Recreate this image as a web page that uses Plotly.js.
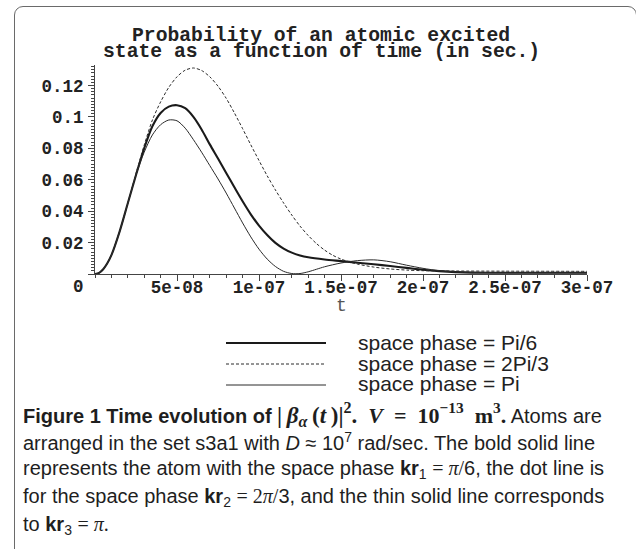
<!DOCTYPE html>
<html><head><meta charset="utf-8">
<script src="https://cdn.plot.ly/plotly-3.0.1.min.js"></script>
<style>
html,body{margin:0;padding:0;background:#fff;}
#wrap{position:relative;width:636px;height:549px;overflow:hidden;}
#frame{position:absolute;left:14px;top:6px;width:623px;height:600px;border:1.5px solid #6a6a6a;border-radius:9px;pointer-events:none;box-sizing:border-box;}
</style></head><body>
<div id="wrap"><div id="chart" style="width:636px;height:549px"></div><div id="frame"></div></div>
<script>
// time (s)
var tPi6 = [0,0.25e-8,0.5e-8,0.75e-8,1e-8,1.5e-8,2e-8,2.5e-8,3e-8,3.5e-8,4e-8,4.5e-8,5e-8,5.5e-8,6e-8,6.5e-8,7e-8,7.5e-8,8e-8,8.5e-8,9e-8,9.5e-8,10e-8,10.5e-8,11e-8,11.5e-8,12e-8,12.5e-8,13e-8,14e-8,15e-8,16e-8,17e-8,18e-8,19e-8,20e-8,21e-8,22e-8,23e-8,25e-8,27e-8,30e-8];
var pPi6 = [0,0.0007,0.003,0.0068,0.012,0.027,0.045,0.063,0.080,0.094,0.1025,0.1065,0.1074,0.1055,0.1,0.092,0.0825,0.0735,0.0643,0.0552,0.0463,0.038,0.0308,0.0248,0.0198,0.0162,0.0136,0.0118,0.0106,0.0092,0.0082,0.0072,0.0062,0.0051,0.0039,0.0027,0.0018,0.0012,0.0009,0.0008,0.0008,0.0008];

var t2Pi3 = [0,0.25e-8,0.5e-8,0.75e-8,1e-8,1.5e-8,2e-8,2.5e-8,3e-8,3.5e-8,4e-8,4.5e-8,5e-8,5.5e-8,6e-8,6.5e-8,7e-8,7.5e-8,8e-8,8.5e-8,9e-8,9.5e-8,10e-8,10.5e-8,11e-8,11.5e-8,12e-8,12.5e-8,13e-8,13.5e-8,14e-8,14.5e-8,15e-8,15.5e-8,16e-8,17e-8,18e-8,19e-8,20e-8,22e-8,25e-8,30e-8];
var p2Pi3 = [0,0.0007,0.003,0.0068,0.012,0.027,0.045,0.064,0.082,0.098,0.1095,0.1188,0.1255,0.1297,0.1311,0.1295,0.1255,0.1195,0.1118,0.1025,0.0925,0.0822,0.0722,0.0625,0.0535,0.0452,0.0375,0.0305,0.0245,0.0194,0.0152,0.0119,0.0095,0.0077,0.0063,0.0044,0.0032,0.0025,0.0021,0.0019,0.0018,0.0017];

var tPi = [0,0.25e-8,0.5e-8,0.75e-8,1e-8,1.5e-8,2e-8,2.5e-8,3e-8,3.5e-8,4e-8,4.5e-8,5e-8,5.5e-8,6e-8,6.5e-8,7e-8,7.5e-8,8e-8,8.5e-8,9e-8,9.5e-8,10e-8,10.5e-8,11e-8,11.5e-8,12e-8,12.5e-8,13e-8,13.5e-8,14e-8,15e-8,16e-8,17e-8,18e-8,19e-8,20e-8,21e-8,22e-8,23e-8,25e-8,27e-8,30e-8];
var pPi = [0,0.0007,0.003,0.0068,0.012,0.027,0.045,0.063,0.0775,0.0885,0.0950,0.0980,0.0975,0.0928,0.0855,0.0775,0.069,0.0605,0.0515,0.042,0.0325,0.0236,0.0158,0.0095,0.0048,0.0017,0.0003,0.0003,0.0014,0.003,0.0046,0.007,0.0085,0.009,0.0078,0.0056,0.0036,0.0021,0.0013,0.001,0.0008,0.0008,0.0008];

var seriesNames = ['space phase = Pi/6','space phase = 2Pi/3','space phase = Pi'];
var xTickVals = [5e-8,1e-7,1.5e-7,2e-7,2.5e-7,3e-7];
var xTickText = ['5e-08','1e-07','1.5e-07','2e-07','2.5e-07','3e-07'];
var yTickVals = [0,0.02,0.04,0.06,0.08,0.1,0.12];
var yTickText = ['','0.02','0.04','0.06','0.08','0.1','0.12'];
var titleLines = ['Probability of an atomic excited','state as a function of time (in sec.)'];
var xAxisTitle = 't';

var lineStyles = [
  {color:'#1a1a1a', width:2.1, dash:'solid'},
  {color:'#2a2a2a', width:1, dash:'3px,2px'},
  {color:'#2a2a2a', width:1, dash:'solid'}
];
var xs = [tPi6, t2Pi3, tPi], ys = [pPi6, p2Pi3, pPi];
var traces = xs.map(function(x,i){
  return {type:'scatter', mode:'lines', x:x, y:ys[i], name:seriesNames[i],
    line:{color:lineStyles[i].color, width:lineStyles[i].width, dash:lineStyles[i].dash, shape:'spline', smoothing:0.8},
    hoverinfo:'skip'};
});

var mono = 'Liberation Mono, Courier New, monospace';
var cap = "'Liberation Sans Narrow', 'Liberation Sans', Arial, sans-serif";

// pixel helpers for the layout (plot area 95..587 x 65..274)
function px(x){return (x-95)/492;}
function py(y){return (274-y)/209;}

var ann = [];
ann.push({xref:'paper',yref:'paper',x:px(321),y:py(35.5),xanchor:'center',yanchor:'middle',showarrow:false,
  text:titleLines[0],font:{family:mono,size:19.7,color:'#222',weight:'bold'}});
ann.push({xref:'paper',yref:'paper',x:px(321),y:py(52),xanchor:'center',yanchor:'middle',showarrow:false,
  text:titleLines[1],font:{family:mono,size:19.7,color:'#222',weight:'bold'}});
ann.push({xref:'paper',yref:'paper',x:0,y:0,xanchor:'right',yanchor:'top',xshift:-9,yshift:-1,showarrow:false,
  text:'0',font:{family:mono,size:17.5,color:'#222',weight:'bold'}});
// x-axis title
ann.push({xref:'paper',yref:'paper',x:0.5,y:py(306),xanchor:'center',yanchor:'middle',showarrow:false,
  text:xAxisTitle,font:{family:mono,size:18,color:'#555'}});
var legRows = [342,363,384];
var shapes = [];
for (var i=0;i<3;i++){
  shapes.push({type:'line',xref:'paper',yref:'paper',x0:px(226),x1:px(326),y0:py(legRows[i]+1),y1:py(legRows[i]+1),
    line:{color:lineStyles[i].color,width:lineStyles[i].width,dash:lineStyles[i].dash}});
  ann.push({xref:'paper',yref:'paper',x:px(356),y:py(legRows[i]),xanchor:'left',yanchor:'middle',showarrow:false,
    text:seriesNames[i],font:{family:'Liberation Sans, Arial, sans-serif',size:21,color:'#222'}});
}
var S = "<span style=\"font-family:Liberation Serif\">";
var capLines = [
  "<b>Figure 1 Time evolution of </b><span style=\"font-family:Liberation Serif;font-size:23px\"><b>|\u2009<i>β</i><sub><i>α</i></sub>\u2009(<i>t</i>\u2009)|<sup>2</sup>.</b></span><span style=\"font-family:Liberation Serif;font-size:22px\"><b>\u2002<i>V</i>\u2002=\u200210<sup>−13</sup>\u2002m<sup>3</sup>.</b></span> Atoms are",
  "arranged in the set s3a1 with <i>D</i> ≈ 10<sup>7</sup> rad/sec. The bold solid line",
  "represents the atom with the space phase <b>kr</b><sub>1</sub> "+S+"= <i>π</i>/</span>6, the dot line is",
  "for the space phase <b>kr</b><sub>2</sub> "+S+"= 2<i>π</i>/</span>3, and the thin solid line corresponds",
  "to <b>kr</b><sub>3</sub> "+S+"= <i>π</i>.</span>"
];
var capRows = [414,441,469,497,525];
for (var j=0;j<capLines.length;j++){
  ann.push({xref:'paper',yref:'paper',x:px(21),y:py(capRows[j]),xanchor:'left',yanchor:'middle',showarrow:false,align:'left',
    text:capLines[j],font:{family:cap,size:20,color:'#1e1e1e'}});
}

var axisCol = '#444';
var layout = {
  width:636,height:549,
  margin:{l:95,r:49,t:65,b:275,pad:0},
  paper_bgcolor:'#fff',plot_bgcolor:'#fff',
  showlegend:false,
  xaxis:{range:[0,3e-7],tickmode:'array',tickvals:xTickVals,ticktext:xTickText,
    ticks:'outside',ticklen:6,tickwidth:1,tickcolor:axisCol,ticklabelstandoff:-9,
    showline:true,linecolor:axisCol,linewidth:1,showgrid:false,zeroline:false,
    minor:{dtick:1e-8,ticks:'outside',ticklen:3,tickcolor:axisCol,tickwidth:1,showgrid:false},
    tickfont:{family:mono,size:17.5,color:'#222',weight:'bold'}},
  yaxis:{range:[0,0.133],tickmode:'array',tickvals:yTickVals,ticktext:yTickText,
    ticks:'outside',ticklen:6,tickwidth:1,tickcolor:axisCol,ticklabelstandoff:1,
    showline:true,linecolor:axisCol,linewidth:1,showgrid:false,zeroline:false,
    minor:{dtick:0.002,ticks:'outside',ticklen:3,tickcolor:axisCol,tickwidth:1,showgrid:false},
    tickfont:{family:mono,size:17.5,color:'#222',weight:'bold'}},
  annotations:ann,
  shapes:shapes
};
Plotly.newPlot('chart',traces,layout,{displayModeBar:false,staticPlot:true});
</script></body></html>
